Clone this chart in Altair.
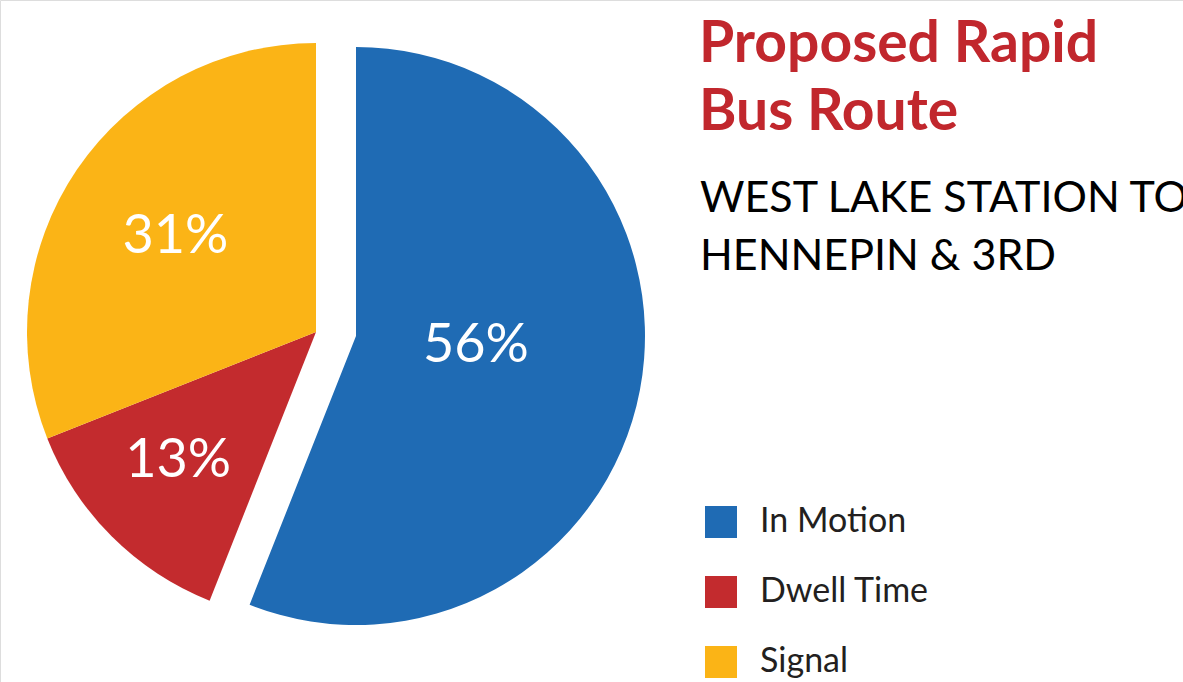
import math
import altair as alt
import pandas as pd

# ---- data ----
categories = ["In Motion", "Dwell Time", "Signal"]
shares = [56, 13, 31]
labels = ["56%", "13%", "31%"]
order = [0, 1, 2]
colors = ["#1F6BB4", "#C32B2E", "#FBB416"]

title_lines = ["Proposed Rapid", "Bus Route"]
subtitle_lines = ["WEST LAKE STATION TO", "HENNEPIN & 3RD"]

df = pd.DataFrame({"category": categories, "share": shares, "label": labels, "order": order})
dummy = pd.DataFrame({"a": [0]})

FONT = "Lato"
R = 289
BLUE_C = (356, 336)
REST_C = (316, 332)

theta_scale = alt.Scale(domain=[0, 100], range=[0, 2 * math.pi])
color = alt.Color(
    "category:N",
    scale=alt.Scale(domain=categories, range=colors),
    legend=alt.Legend(
        title=None, orient="none", legendX=704, legendY=505,
        symbolType="square", symbolSize=1024, symbolStrokeWidth=0, symbolOpacity=1,
        labelFontSize=34, labelFont=FONT, labelColor="#231F20", labelLimit=400,
        labelOffset=22, rowPadding=36, padding=0,
    ),
)

base = (
    alt.Chart(df)
    .transform_window(cum="sum(share)", sort=[alt.SortField("order")], frame=[None, 0])
    .transform_calculate(start="datum.cum - datum.share", mid="datum.cum - datum.share / 2")
)


def arc_layer(filt, center):
    return (
        base.transform_filter(filt)
        .mark_arc(outerRadius=R, stroke=None)
        .encode(
            theta=alt.Theta("start:Q", scale=theta_scale, stack=None),
            theta2="cum:Q",
            color=color,
            x=alt.value(center[0]),
            y=alt.value(center[1]),
        )
    )


def text_layer(cat, center, radius, dy):
    return (
        base.transform_filter(alt.datum.category == cat)
        .mark_text(radius=radius, dy=dy, font=FONT, fontSize=54, color="white",
                   baseline="alphabetic", align="center")
        .encode(
            theta=alt.Theta("mid:Q", scale=theta_scale, stack=None),
            text="label:N",
            x=alt.value(center[0]),
            y=alt.value(center[1]),
        )
    )


blue_arc = arc_layer(alt.datum.category == "In Motion", BLUE_C)
rest_arc = arc_layer(alt.datum.category != "In Motion", REST_C)

t56 = text_layer("In Motion", BLUE_C, 122, 3)
t13 = text_layer("Dwell Time", REST_C, 195, 7)
t31 = text_layer("Signal", REST_C, 170, 17)

title = alt.Chart(dummy).mark_text(
    text=title_lines, font=FONT, fontSize=57, fontWeight="bold", color="#C1272D",
    align="left", baseline="alphabetic", lineHeight=68,
).encode(x=alt.value(699), y=alt.value(62))

subtitle = alt.Chart(dummy).mark_text(
    text=subtitle_lines, font=FONT, fontSize=43, color="#000000",
    align="left", baseline="alphabetic", lineHeight=58,
).encode(x=alt.value(700), y=alt.value(212))

chart = (
    alt.layer(blue_arc, rest_arc, t56, t13, t31, title, subtitle)
    .properties(width=1183, height=682, padding=0, autosize=alt.AutoSizeParams(type="none"))
    .configure_view(stroke=None)
    .configure(background="white")
)

chart.save("out.html", embed_options={"renderer": "svg", "actions": False})
